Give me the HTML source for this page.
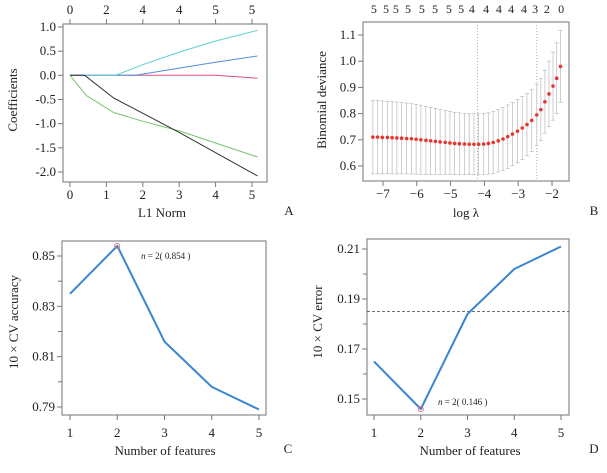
<!DOCTYPE html>
<html><head><meta charset="utf-8"><style>
html,body{margin:0;padding:0;background:#fff}
svg, svg text{font-family:"Liberation Serif","DejaVu Serif",serif}
</style></head><body>
<svg id="s" width="607" height="468" viewBox="0 0 607 468"></svg>
<script>
// ---- Panel A data ----
const aTopLabels=["0","2","4","4","5","5"];
const aXTicks=[0,1,2,3,4,5];
const aYTicks=[1.0,0.5,0.0,-0.5,-1.0,-1.5,-2.0];
const aBlackX=[0,0.4,1.2,3,5.15], aBlackY=[0,0,-0.47,-1.18,-2.08];
const aGreenX=[0,0.45,1.2,2,3,4,5.15], aGreenY=[0,-0.42,-0.77,-0.95,-1.15,-1.4,-1.69];
const aCyanX=[0,1.25,2,3,4,5.15], aCyanY=[0,0,0.22,0.48,0.71,0.93];
const aBlueX=[0,1.8,3,4,5.15], aBlueY=[0,0,0.15,0.27,0.4];
const aRedX=[0,4,5.15], aRedY=[0,0,-0.06];
// ---- Panel B data ----
const bLogLambda=[-7.30,-7.16,-7.02,-6.87,-6.73,-6.59,-6.45,-6.30,-6.16,-6.02,-5.88,-5.73,-5.59,-5.45,-5.31,-5.16,-5.02,-4.88,-4.74,-4.59,-4.45,-4.31,-4.17,-4.02,-3.88,-3.74,-3.59,-3.45,-3.31,-3.17,-3.02,-2.88,-2.74,-2.60,-2.45,-2.33,-2.21,-2.09,-1.97,-1.86,-1.75];
const bMean=[.710,.710,.709,.709,.708,.707,.706,.705,.704,.702,.700,.698,.696,.694,.692,.690,.688,.686,.685,.684,.683,.683,.683,.684,.686,.690,.696,.703,.712,.722,.733,.745,.758,.774,.795,.815,.845,.875,.905,.935,.980];
const bSE=[.140,.140,.139,.138,.138,.137,.136,.135,.134,.133,.132,.130,.128,.126,.124,.122,.120,.119,.118,.117,.116,.116,.116,.116,.117,.118,.119,.120,.121,.121,.121,.120,.119,.118,.117,.118,.120,.125,.130,.135,.137];
const bTopLabels=["5","5","5","5","5","5","5","5","4","4","4","4","4","3","2","0"];
const bTopPos=[-7.27,-6.91,-6.62,-6.26,-5.85,-5.46,-5.05,-4.69,-4.37,-3.95,-3.57,-3.21,-2.83,-2.50,-2.15,-1.73];
const bXTicks=[-7,-6,-5,-4,-3,-2];
const bYTicks=[1.1,1.0,0.9,0.8,0.7,0.6];
const bVLines=[-4.2,-2.45];
// ---- Panel C data ----
const cFeatures=[1,2,3,4,5];
const cAccuracy=[0.835,0.854,0.816,0.798,0.789];
const cYTicks=[0.85,0.83,0.81,0.79];
const cMinor=[0.84,0.82,0.80];
// ---- Panel D data ----
const dFeatures=[1,2,3,4,5];
const dError=[0.165,0.146,0.184,0.202,0.211];
const dYTicks=[0.21,0.19,0.17,0.15];
const dMinor=[0.20,0.18,0.16];
const dThreshold=0.185;

const S=document.getElementById('s');
const NS='http://www.w3.org/2000/svg';
const FF='"Liberation Serif", "DejaVu Serif", serif';
function mk(tag,at,parent,txt){const e=document.createElementNS(NS,tag);for(const k in at)e.setAttribute(k,at[k]);if(txt!==undefined)e.textContent=txt;(parent||S).appendChild(e);return e;}
function lin(d0,d1,r0,r1){return v=>r0+(v-d0)*(r1-r0)/(d1-d0);}
function box(x0,y0,x1,y1,name){const r=mk('rect',{x:x0,y:y0,width:x1-x0,height:y1-y0,fill:'none',stroke:'#8a8a8a','stroke-width':1.2});

}
function txt(x,y,s,size,name,anchor,rot){const a={x:x,y:y,'font-size':size,'text-anchor':anchor||'middle',fill:'#222','font-family':FF};if(rot)a.transform='rotate(-90 '+x+' '+y+')';const t=mk('text',a,S,s);

return t;}
function tickX(x,y,len){mk('line',{x1:x,x2:x,y1:y,y2:y+len,stroke:'#777','stroke-width':1});}
function tickY(x,y,len){mk('line',{x1:x,x2:x-len,y1:y,y2:y,stroke:'#777','stroke-width':1});}
function poly(xs,ys,fx,fy,col,w,name){const p=xs.map((v,i)=>fx(v).toFixed(1)+','+fy(ys[i]).toFixed(1)).join(' ');const e=mk('polyline',{points:p,fill:'none',stroke:col,'stroke-width':w,'stroke-linejoin':'round'});

}

// Panel A
{const fx=lin(0,5,70,252), fy=lin(1,-2,27,172);
box(63,24,267,182,'panel-a-frame');
aXTicks.forEach((v,i)=>{tickX(fx(v),182,5);txt(fx(v),199,String(v),13,'a-x-tick');tickX(fx(v),24,-5);txt(fx(v),14,aTopLabels[i],13,'a-top-tick');});
aYTicks.forEach(v=>{tickY(63,fy(v),5);txt(56,fy(v)+4,v.toFixed(1),13,'a-y-tick','end');});
poly(aRedX,aRedY,fx,fy,'#e0507a',1,'series-red');
poly(aBlueX,aBlueY,fx,fy,'#4f8fdc',1,'series-blue');
poly(aCyanX,aCyanY,fx,fy,'#5fd0d0',1,'series-cyan');
poly(aGreenX,aGreenY,fx,fy,'#72c66a',1,'series-green');
poly(aBlackX,aBlackY,fx,fy,'#333',1,'series-black');
txt(162,217,'L1 Norm',13,'a-x-axis-title');
txt(17,100,'Coefficients',13,'a-y-axis-title','middle',true);
txt(289,215,'A',13,'panel-label-a');}

// Panel B
{const fx=lin(-7,-2,383,552), fy=lin(1.1,0.6,35,166);
box(363,22,569,181,'panel-b-frame');
bVLines.forEach(v=>{const l=mk('line',{x1:fx(v),x2:fx(v),y1:22,y2:181,stroke:'#999','stroke-width':0.8,'stroke-dasharray':'1,2'});

});
bXTicks.forEach(v=>{tickX(fx(v),181,5);txt(fx(v),198,'\u2212'+Math.abs(v),13,'b-x-tick');});
bYTicks.forEach(v=>{tickY(363,fy(v),5);txt(356,fy(v)+4,v.toFixed(1),13,'b-y-tick','end');});
bTopLabels.forEach((s,i)=>txt(fx(bTopPos[i]),13,s,12,'b-top-tick'));
bLogLambda.forEach((x,i)=>{const X=fx(x),hi=fy(bMean[i]+bSE[i]),lo=fy(bMean[i]-bSE[i]);
const g=mk('g',{});


mk('line',{x1:X,x2:X,y1:hi,y2:lo,stroke:'#bbb','stroke-width':0.7},g);
mk('line',{x1:X-2,x2:X+2,y1:hi,y2:hi,stroke:'#bbb','stroke-width':0.7},g);
mk('line',{x1:X-2,x2:X+2,y1:lo,y2:lo,stroke:'#bbb','stroke-width':0.7},g);
mk('circle',{cx:X,cy:fy(bMean[i]),r:1.8,fill:'#e8352d'},g);});
txt(466,217,'log \u03bb',13,'b-x-axis-title');
txt(326,100,'Binomial deviance',13,'b-y-axis-title','middle',true);
txt(594,215,'B',13,'panel-label-b');}

// Panel C
{const fx=lin(1,5,70,259), fy=lin(0.85,0.79,256,407);
box(62,241,266,415,'panel-c-frame');
cFeatures.forEach(v=>{tickX(fx(v),415,5);txt(fx(v),437,String(v),13,'c-x-tick');});
cYTicks.forEach(v=>{tickY(62,fy(v),5);txt(55,fy(v)+4,v.toFixed(2),13,'c-y-tick','end');});
cMinor.forEach(v=>tickY(62,fy(v),4));
poly(cFeatures,cAccuracy,fx,fy,'#3a86d0',2,'accuracy-line');
const bi=cAccuracy.indexOf(Math.max(...cAccuracy));
const c=mk('circle',{cx:fx(cFeatures[bi]),cy:fy(cAccuracy[bi]),r:2.5,fill:'none',stroke:'#e07080','stroke-width':1});


const t=txt(141,259,'',9,'c-annotation','start');t.innerHTML='<tspan font-style="italic">n</tspan> = '+cFeatures[bi]+'( '+cAccuracy[bi].toFixed(3)+' )';
txt(165,455,'Number of features',13,'c-x-axis-title');
txt(18,322,'10 \u00d7 CV accuracy',13,'c-y-axis-title','middle',true);
txt(288,453,'C',13,'panel-label-c');}

// Panel D
{const fx=lin(1,5,374,561), fy=lin(0.21,0.15,249,399);
box(367,239,569,415,'panel-d-frame');
const l=mk('line',{x1:367,x2:569,y1:fy(dThreshold),y2:fy(dThreshold),stroke:'#444','stroke-width':0.8,'stroke-dasharray':'3,2'});


dFeatures.forEach(v=>{tickX(fx(v),415,5);txt(fx(v),437,String(v),13,'d-x-tick');});
dYTicks.forEach(v=>{tickY(367,fy(v),5);txt(360,fy(v)+4,v.toFixed(2),13,'d-y-tick','end');});
dMinor.forEach(v=>tickY(367,fy(v),4));
poly(dFeatures,dError,fx,fy,'#3a86d0',2,'error-line');
const bi=dError.indexOf(Math.min(...dError));
const c=mk('circle',{cx:fx(dFeatures[bi]),cy:fy(dError[bi]),r:2.5,fill:'none',stroke:'#e07080','stroke-width':1});


const t=txt(438,405,'',9,'d-annotation','start');t.innerHTML='<tspan font-style="italic">n</tspan> = '+dFeatures[bi]+'( '+dError[bi].toFixed(3)+' )';
txt(470,455,'Number of features',13,'d-x-axis-title');
txt(322,322,'10 \u00d7 CV error',13,'d-y-axis-title','middle',true);
txt(594,453,'D',13,'panel-label-d');}
</script>
</body></html>
